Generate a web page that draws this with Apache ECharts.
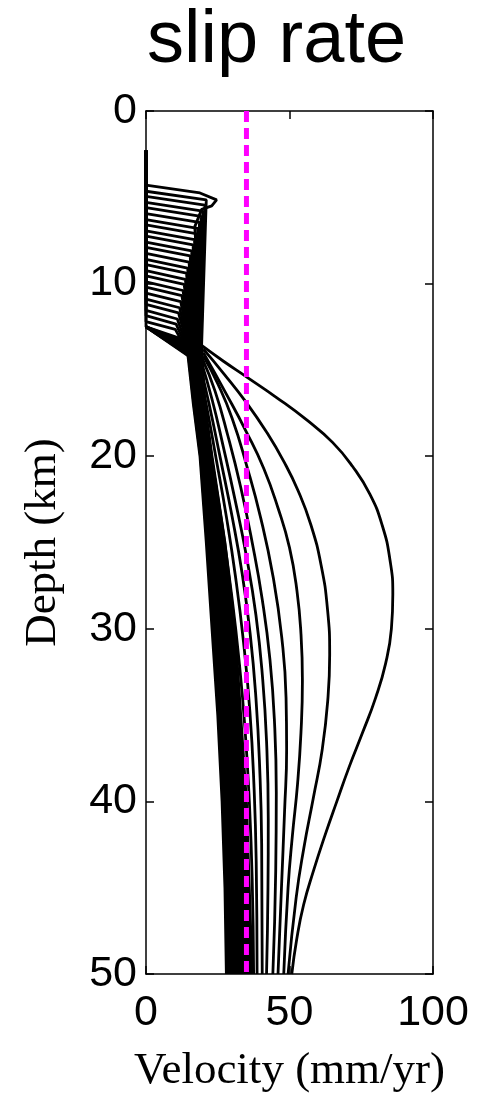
<!DOCTYPE html>
<html>
<head>
<meta charset="utf-8">
<script src="https://cdn.jsdelivr.net/npm/echarts@6/dist/echarts.min.js"></script>
<style>
html,body{margin:0;padding:0;background:#fff;}
#chart{width:481px;height:1099px;}
</style>
</head>
<body>
<div id="chart"></div>
<script>
// ---- data ----
const titleText = 'slip rate';
const xAxisName = 'Velocity (mm/yr)';
const yAxisName = 'Depth (km)';
const velocityRange = [0, 100];
const depthRange = [0, 50];
const referenceRate = 35; // magenta dashed line (mm/yr)

const lockedTop = 2.3; // depth where the zero-velocity part starts
// interseismic profiles: locking depth (km)
const lockDepths = [4.3, 4.65, 4.95, 5.3, 5.6, 5.95, 6.3, 6.6, 6.95, 7.25, 7.6, 7.9, 8.25,
  8.6, 8.9, 9.25, 9.55, 9.9, 10.2, 10.55, 10.9, 11.2, 11.55, 11.85, 12.2, 12.5];
// velocity at the end of the jump below the locked zone
const jumpVelocity = [18.8, 21.0, 20.5, 19.8, 19.2, 18.6, 18.0, 17.4, 16.9, 16.4, 15.9, 15.4, 15.0,
  14.5, 14.1, 13.7, 13.3, 12.9, 12.5, 12.1, 11.7, 11.3, 10.9, 10.5, 10.2, 13.0];
// depth at the end of the jump
const jumpDepth = [4.75, 5.15, 5.45, 5.8, 6.1, 6.45, 6.8, 7.1, 7.45, 7.75, 8.1, 8.4, 8.75,
  9.1, 9.4, 9.75, 10.05, 10.4, 10.7, 11.05, 11.4, 11.7, 12.05, 12.35, 12.65, 13.6];
// extra points of the shallowest profile (its overshoot)
const firstProfileHook = [[24.6, 5.15], [22.9, 5.5], [19.4, 5.7], [17.0, 6.7]];
// velocities of the interseismic profiles below the locked zone
const bandDepths = [14, 17, 20, 25, 30, 35, 40, 45, 50];
const bandVelocities = [
  [19.5, 20.5, 23.0, 27.5, 31.0, 33.0, 35.0, 36.0, 37.0],
  [19.3, 20.3, 22.8, 27.2, 30.7, 32.7, 34.7, 35.7, 36.6],
  [19.1, 20.2, 22.7, 27.0, 30.4, 32.4, 34.3, 35.3, 36.3],
  [18.9, 20.0, 22.5, 26.7, 30.0, 32.0, 34.0, 35.0, 35.9],
  [18.7, 19.9, 22.3, 26.5, 29.7, 31.7, 33.6, 34.6, 35.6],
  [18.5, 19.7, 22.2, 26.2, 29.4, 31.4, 33.3, 34.3, 35.2],
  [18.3, 19.5, 22.0, 25.9, 29.1, 31.1, 33.0, 34.0, 34.8],
  [18.1, 19.4, 21.8, 25.7, 28.8, 30.8, 32.6, 33.6, 34.5],
  [17.9, 19.2, 21.7, 25.4, 28.4, 30.4, 32.3, 33.3, 34.1],
  [17.7, 19.1, 21.5, 25.2, 28.1, 30.1, 31.9, 32.9, 33.8],
  [17.5, 18.9, 21.3, 24.9, 27.8, 29.8, 31.6, 32.6, 33.4],
  [17.3, 18.7, 21.2, 24.6, 27.5, 29.5, 31.3, 32.3, 33.0],
  [17.1, 18.6, 21.0, 24.4, 27.2, 29.2, 30.9, 31.9, 32.7],
  [16.9, 18.4, 20.8, 24.1, 26.8, 28.8, 30.6, 31.6, 32.3],
  [16.7, 18.3, 20.6, 23.9, 26.5, 28.5, 30.2, 31.2, 32.0],
  [16.5, 18.1, 20.5, 23.6, 26.2, 28.2, 29.9, 30.9, 31.6],
  [16.3, 17.9, 20.3, 23.3, 25.9, 27.9, 29.6, 30.6, 31.2],
  [16.1, 17.8, 20.1, 23.1, 25.6, 27.6, 29.2, 30.2, 30.9],
  [15.9, 17.6, 20.0, 22.8, 25.2, 27.2, 28.9, 29.9, 30.5],
  [15.7, 17.5, 19.8, 22.6, 24.9, 26.9, 28.5, 29.5, 30.2],
  [15.5, 17.3, 19.6, 22.3, 24.6, 26.6, 28.2, 29.2, 29.8],
  [15.3, 17.1, 19.5, 22.0, 24.3, 26.3, 27.9, 28.9, 29.4],
  [15.1, 17.0, 19.3, 21.8, 24.0, 26.0, 27.5, 28.5, 29.1],
  [14.9, 16.8, 19.1, 21.5, 23.6, 25.6, 27.2, 28.2, 28.7],
  [14.7, 16.7, 19.0, 21.3, 23.3, 25.3, 26.8, 27.8, 28.4],
  [14.5, 16.5, 18.8, 21.0, 23.0, 25.0, 26.5, 27.5, 28.0]
];
// postseismic profiles: locked down to this depth, then [velocity, depth] points
const postLockDepth = 12.5;
const post1 = [[19.5,13.6],[27,14.5],[35,15.4],[45.5,16.6],[56,17.9],[65,19.2],[72,20.6],[78,22.2],[82.3,24],[85,26],[86,28],[85.5,30],[83.5,32],[80,34],[75.5,36],[70.8,38],[66.5,40],[62.3,42],[58.4,44],[54.9,46],[52.5,48],[50.8,50]];
const post2 = [[20,13.8],[27,15.2],[35,16.9],[42,18.6],[48,20.3],[53,22],[57.5,24],[61,26.3],[63.2,28.8],[64,31.5],[63.4,34],[61.4,37],[58.3,39.8],[55,42.7],[52.3,45.6],[49.5,50]];
const post3 = [[20,14],[28,16.4],[35,18.6],[41,20.7],[46,23],[50,25.3],[52.6,27.8],[54,30.3],[54.5,33],[54,36],[52.8,39],[51,42],[49.5,45],[48,50]];
const post4 = [[20,14.2],[25,15.8],[30,17.8],[35,20.5],[40,23.6],[44.3,27],[47.3,30.5],[48.8,34],[49,37],[48.3,40.5],[47.2,45],[46,50]];
const post5 = [[19.5,14.3],[24,16.2],[28.5,18.8],[33,21.8],[37,25],[40.5,28.3],[43.2,31.8],[44.8,35.5],[45.4,39.5],[45.2,44],[44.2,50]];
const post6 = [[19,14.4],[23,16.7],[27,19.5],[31,22.5],[35,25.8],[38.3,29.2],[40.6,32.8],[42,36.5],[42.6,41],[42.5,45],[42,50]];
const post7 = [[18.5,14.5],[22,17],[26,20.2],[30,23.5],[33.5,26.8],[36.3,30.3],[38.3,34],[39.6,38],[40.3,42.5],[40.5,50]];
const post8 = [[18,14.5],[21,17],[24.5,20.2],[28,23.5],[31.2,27],[34,30.8],[36.2,34.8],[37.6,39],[38.4,43.5],[38.7,50]];
const post9 = [[17.5,14.5],[20.5,17.6],[23.5,20.8],[26.8,24.3],[29.8,28],[32.4,31.8],[34.5,35.8],[36,40],[37,44.5],[37.5,50]];
const postProfiles = [post1, post2, post3, post4, post5, post6, post7, post8, post9];

// ---- chart ----
const chart = echarts.init(document.getElementById('chart'), null, {renderer: 'canvas'});
const series = [];
const black = '#000000';
lockDepths.forEach((lock, i) => {
  let pts = [[0, lockedTop], [0, lock], [jumpVelocity[i], jumpDepth[i]]];
  if (i === 0) pts = pts.concat(firstProfileHook);
  bandDepths.forEach((d, k) => pts.push([bandVelocities[i][k], d]));
  series.push({
    type: 'line', data: pts, symbol: 'none', smooth: false,
    lineStyle: {color: black, width: 2.8}, silent: true, z: 2
  });
});
postProfiles.forEach(p => {
  // straight jump from the locked zone to the first creeping point
  series.push({
    type: 'line', data: [[0, postLockDepth], p[0]], symbol: 'none', smooth: false,
    lineStyle: {color: black, width: 2.8}, silent: true, z: 3
  });
  series.push({
    type: 'line', data: p, symbol: 'none', smooth: 0.5,
    lineStyle: {color: black, width: 2.8}, silent: true, z: 3
  });
});
series.push({
  type: 'line', data: [[referenceRate, depthRange[0]], [referenceRate, depthRange[1]]],
  symbol: 'none', lineStyle: {color: '#ff00ff', width: 5, type: [11, 6]}, z: 10, silent: true
});

const tickFont = {fontFamily: 'Liberation Sans, Arial, sans-serif', fontSize: 43, color: '#000'};
const nameFont = {fontFamily: 'Liberation Serif, Times New Roman, serif', fontSize: 45, color: '#000'};
const axisLine = {show: true, onZero: false, lineStyle: {color: '#000', width: 1.5}};
const tickIn = {show: true, inside: true, length: 8, lineStyle: {color: '#000', width: 1.5}};

chart.setOption({
  animation: false,
  backgroundColor: '#fff',
  title: {
    text: titleText, left: 142, top: 0,
    textStyle: {fontFamily: 'Liberation Sans, Arial, sans-serif', fontSize: 74, fontWeight: 'normal', color: '#000'}
  },
  grid: {left: 146, right: 48, top: 111, bottom: 123, containLabel: false},
  xAxis: [{
    type: 'value', min: velocityRange[0], max: velocityRange[1], interval: 50, position: 'bottom',
    name: xAxisName, nameLocation: 'middle', nameGap: 75, nameTextStyle: nameFont,
    axisLine: axisLine, axisTick: tickIn, splitLine: {show: false},
    axisLabel: Object.assign({margin: 18}, tickFont)
  }, {
    type: 'value', min: velocityRange[0], max: velocityRange[1], interval: 50, position: 'top',
    axisLine: axisLine, axisTick: tickIn, splitLine: {show: false}, axisLabel: {show: false}
  }],
  yAxis: [{
    type: 'value', inverse: true, min: depthRange[0], max: depthRange[1], interval: 10, position: 'left',
    name: yAxisName, nameLocation: 'middle', nameGap: 80, nameTextStyle: nameFont,
    axisLine: axisLine, axisTick: tickIn, splitLine: {show: false},
    axisLabel: Object.assign({margin: 9}, tickFont)
  }, {
    type: 'value', inverse: true, min: depthRange[0], max: depthRange[1], interval: 10, position: 'right',
    axisLine: axisLine, axisTick: tickIn, splitLine: {show: false}, axisLabel: {show: false}
  }],
  series: series
});
</script>
</body>
</html>
